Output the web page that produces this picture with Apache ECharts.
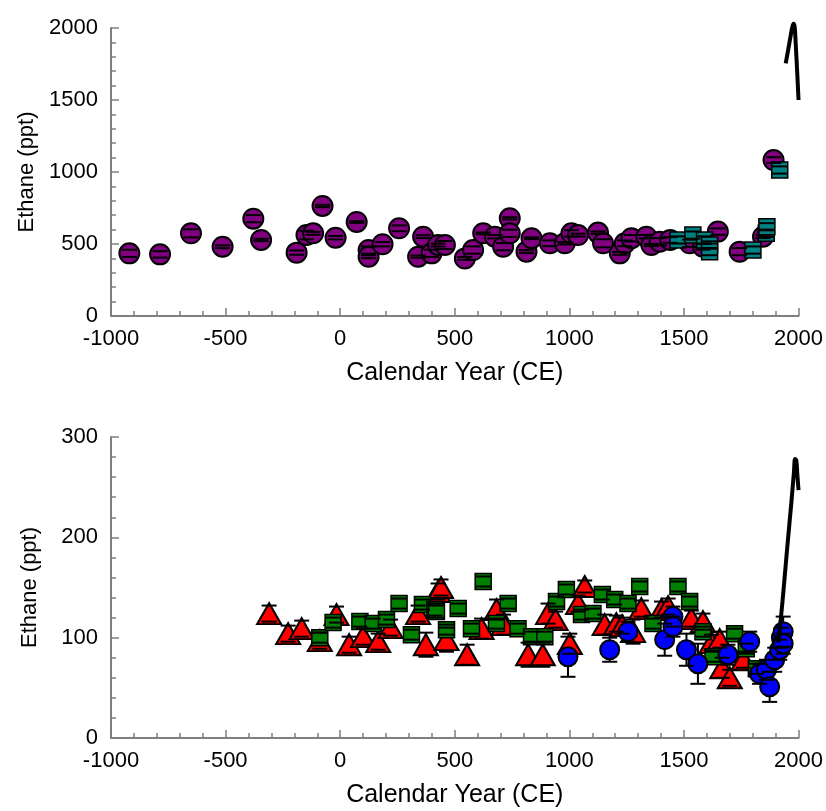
<!DOCTYPE html>
<html>
<head>
<meta charset="utf-8">
<script src="https://cdn.jsdelivr.net/npm/echarts@6/dist/echarts.min.js"></script>
<style>html,body{margin:0;padding:0;background:#fff}#c{width:826px;height:811px}</style>
</head>
<body>
<div id="c"></div>
<script>
// ---------- Data: top panel ----------
const xTicks = [-1000, -500, 0, 500, 1000, 1500, 2000];
const topYTicks = [0, 500, 1000, 1500, 2000];
const botYTicks = [0, 100, 200, 300];

const topCircleYear = [-920,-786,-651,-513,-379,-345,-190,-147,-118,-77,-20,72,124,124,185,257,340,362,399,427,457,544,580,624,675,711,740,740,813,835,915,980,1009,1038,1125,1147,1220,1242,1271,1336,1358,1394,1440,1525,1583,1648,1743,1845,1891];
const topCircleVal  = [435,428,574,481,676,528,440,562,574,764,544,653,458,412,498,609,412,551,435,493,493,400,458,574,551,481,678,574,447,540,505,505,574,562,579,505,435,505,540,551,493,516,528,505,481,586,447,551,1083];
const topCircleErr  = [25,22,28,10,25,8,15,30,10,8,12,6,25,10,15,20,8,10,25,10,28,10,25,6,12,25,8,25,10,6,20,8,22,10,8,28,10,20,22,12,8,25,20,25,20,22,25,10,20];

const topSquareYear = [1474,1539,1590,1612,1612,1801,1859,1862,1918];
const topSquareVal  = [528,562,528,493,447,458,575,620,1014];
const topSquareErr  = [25,25,25,25,25,25,25,25,25];

const topLineYear = [1944,1955,1965,1972,1978,1983,1988,1994,2000];
const topLineVal  = [1755,1850,1940,2000,2030,2010,1880,1700,1500];

// ---------- Data: bottom panel ----------
const triYear = [-310,-227,-168,-89,-16,39,100,166,220,340,374,427,440,464,554,617,682,713,820,884,907,940,1002,1038,1067,1154,1205,1230,1278,1314,1402,1431,1532,1583,1620,1656,1667,1700,1759];
const triVal  = [124,104,109,97,123,93,101,96,110,124,93,146,150,98,83,109,128,113,83,83,124,118,94,134,151,113,114,112,106,129,128,131,119,116,95,98,70,60,78];
const triErr  = [8,8,8,8,8,8,8,8,8,8,12,8,8,12,10,10,10,10,12,12,10,8,10,8,6,10,8,8,12,8,8,8,8,8,8,8,10,8,8];

const sqYear = [-89,-31,86,144,202,257,311,359,413,420,464,515,573,624,682,733,776,835,893,944,987,1053,1103,1144,1198,1256,1307,1365,1474,1525,1583,1627,1721,1772,1816];
const sqVal  = [100,115,116,114,118,134,103,133,128,126,108,129,109,156,114,134,109,101,101,136,148,123,124,143,138,134,151,114,151,136,106,81,104,89,69];
const sqErr  = [5,5,5,5,5,5,5,5,6,6,5,5,5,5,5,5,5,5,5,5,5,5,5,5,5,5,5,5,5,5,5,5,5,5,5];

const circYear = [994,1176,1256,1416,1452,1452,1511,1561,1692,1787,1830,1860,1874,1896,1918,1925,1933,1933];
const circVal  = [81,88,106,98,121,111,88,74,83,96,64,68,51,78,88,100,106,94];
const circErr  = [20,12,10,16,10,10,16,20,10,10,10,10,15,12,10,10,15,10];

const botLineYear = [1912,1930,1950,1970,1980,1985,1990,1995,2000];
const botLineVal  = [95,136,188,238,265,278,277,262,247];

// ---------- helpers ----------
function zip3(a,b,c){return a.map((v,i)=>[v,b[i],c[i]]);}
function zip2(a,b){return a.map((v,i)=>[v,b[i]]);}

function capsRender(params, api){
  const x=api.value(0), y=api.value(1), e=api.value(2);
  const p1=api.coord([x,y+e]), p2=api.coord([x,y-e]);
  const w=7.5;
  return {type:'group', children:[
    {type:'line', shape:{x1:p1[0]-w,y1:p1[1],x2:p1[0]+w,y2:p1[1]}, style:{stroke:'#000',lineWidth:2}},
    {type:'line', shape:{x1:p2[0]-w,y1:p2[1],x2:p2[0]+w,y2:p2[1]}, style:{stroke:'#000',lineWidth:2}}
  ]};
}
function stemRender(params, api){
  const x=api.value(0), y=api.value(1), e=api.value(2);
  const p1=api.coord([x,y+e]), p2=api.coord([x,y-e]);
  return {type:'line', shape:{x1:p1[0],y1:p1[1],x2:p2[0],y2:p2[1]}, style:{stroke:'#000',lineWidth:2}};
}
function errSeries(data, gi){
  return [
    {type:'custom', xAxisIndex:gi, yAxisIndex:gi, renderItem:stemRender, data:data, encode:{x:0,y:1}, z:1, clip:false, silent:true},
    {type:'custom', xAxisIndex:gi, yAxisIndex:gi, renderItem:capsRender, data:data, encode:{x:0,y:1}, z:5, clip:false, silent:true}
  ];
}

const FONT = 'Liberation Sans, Arial, sans-serif';
const axisGray = '#7f7f7f';
const plain = v => String(v);

function xAxisDef(gi){
  return {
    type:'value', gridIndex:gi, min:xTicks[0], max:xTicks[xTicks.length-1], interval:500,
    name:'Calendar Year (CE)', nameLocation:'middle', nameGap:45,
    nameTextStyle:{fontFamily:FONT, fontSize:25, color:'#000'},
    axisLine:{show:true, onZero:false, lineStyle:{color:axisGray, width:2}},
    axisTick:{show:true, inside:true, length:8, lineStyle:{color:axisGray, width:1.5}},
    minorTick:{show:true, splitNumber:5, length:5, lineStyle:{color:axisGray, width:1.5}},
    axisLabel:{fontFamily:FONT, fontSize:22, color:'#000', margin:12, formatter:plain},
    splitLine:{show:false}
  };
}
function yAxisDef(gi, max, interval){
  return {
    type:'value', gridIndex:gi, min:0, max:max, interval:interval,
    name:'Ethane (ppt)', nameLocation:'middle', nameGap:70,
    nameTextStyle:{fontFamily:FONT, fontSize:22, color:'#000'},
    axisLine:{show:true, onZero:false, lineStyle:{color:axisGray, width:2}},
    axisTick:{show:true, inside:true, length:8, lineStyle:{color:axisGray, width:1.5}},
    minorTick:{show:true, splitNumber:5, length:5, lineStyle:{color:axisGray, width:1.5}},
    axisLabel:{fontFamily:FONT, fontSize:22, color:'#000', margin:13, formatter:plain},
    splitLine:{show:false}
  };
}

const series = [];
// top panel
series.push(...errSeries(zip3(topCircleYear, topCircleVal, topCircleErr), 0));
series.push({type:'scatter', xAxisIndex:0, yAxisIndex:0, data:zip2(topCircleYear, topCircleVal), symbol:'circle', symbolSize:20,
  itemStyle:{color:'#800080', borderColor:'#000', borderWidth:2, opacity:1}, z:3});
series.push(...errSeries(zip3(topSquareYear, topSquareVal, topSquareErr), 0));
series.push({type:'scatter', xAxisIndex:0, yAxisIndex:0, data:zip2(topSquareYear, topSquareVal), symbol:'rect', symbolSize:16,
  itemStyle:{color:'#008080', borderColor:'#000', borderWidth:1.5, opacity:1}, z:4});
series.push({type:'line', xAxisIndex:0, yAxisIndex:0, data:zip2(topLineYear, topLineVal), smooth:0.4, showSymbol:false, symbol:'none',
  lineStyle:{color:'#000', width:4}, z:6, clip:false});
// bottom panel
series.push(...errSeries(zip3(triYear, triVal, triErr), 1));
series.push({type:'scatter', xAxisIndex:1, yAxisIndex:1, data:zip2(triYear, triVal), symbol:'triangle', symbolSize:[24,21],
  itemStyle:{color:'#ff0000', borderColor:'#000', borderWidth:2, opacity:1}, z:3});
series.push(...errSeries(zip3(sqYear, sqVal, sqErr), 1));
series.push({type:'scatter', xAxisIndex:1, yAxisIndex:1, data:zip2(sqYear, sqVal), symbol:'rect', symbolSize:16,
  itemStyle:{color:'#008000', borderColor:'#000', borderWidth:1.5, opacity:1}, z:4});
series.push(...errSeries(zip3(circYear, circVal, circErr), 1));
series.push({type:'scatter', xAxisIndex:1, yAxisIndex:1, data:zip2(circYear, circVal), symbol:'circle', symbolSize:19,
  itemStyle:{color:'#0000ff', borderColor:'#000', borderWidth:2, opacity:1}, z:4});
series.push({type:'line', xAxisIndex:1, yAxisIndex:1, data:zip2(botLineYear, botLineVal), smooth:0.4, showSymbol:false, symbol:'none',
  lineStyle:{color:'#000', width:4}, z:6, clip:false});

const chart = echarts.init(document.getElementById('c'), null, {renderer:'canvas'});
chart.setOption({
  animation:false,
  backgroundColor:'#fff',
  grid:[
    {left:111, right:27, top:28, bottom:495, containLabel:false},
    {left:111, right:27, top:437, bottom:73, containLabel:false}
  ],
  xAxis:[xAxisDef(0), xAxisDef(1)],
  yAxis:[yAxisDef(0, 2000, 500), yAxisDef(1, 300, 100)],
  series:series
});
</script>
</body>
</html>
